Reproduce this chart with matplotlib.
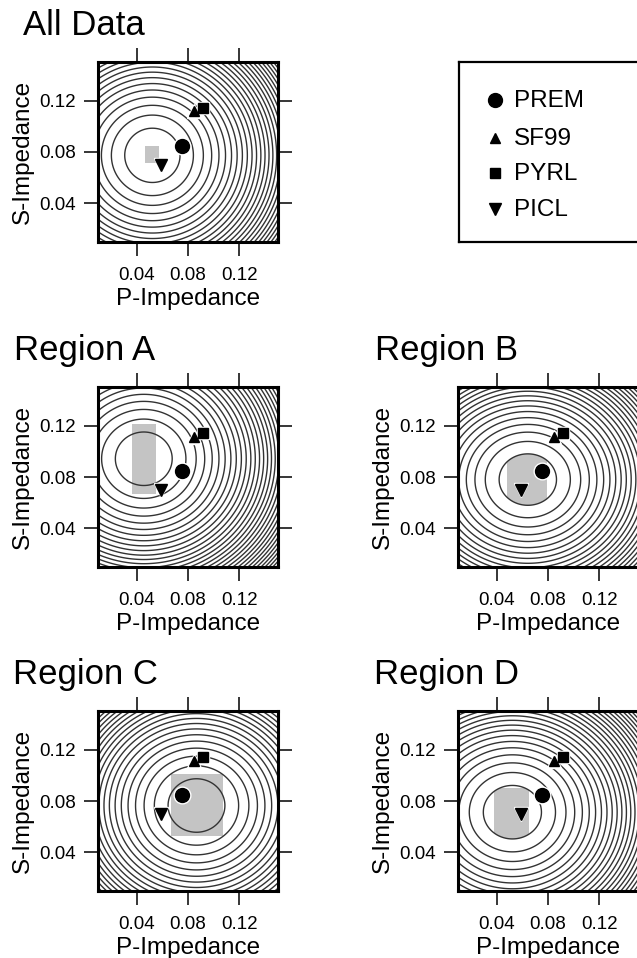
import numpy as np
import matplotlib
matplotlib.use("Agg")
import matplotlib.pyplot as plt
from matplotlib.patches import Rectangle, Ellipse

plt.rcParams['font.family'] = ['Liberation Sans', 'DejaVu Sans']

# ---- data -------------------------------------------------------------
panel_titles = ["All Data", "Region A", "Region B", "Region C", "Region D"]

# misfit minimum (P, S) and semi-axes of the first misfit contour
center_p = [0.0523, 0.0456, 0.0643, 0.0866, 0.0523]
center_s = [0.0774, 0.0942, 0.0780, 0.0765, 0.0713]
radius_p = [0.0215, 0.0221, 0.0223, 0.0221, 0.0226]
radius_s = [0.0211, 0.0208, 0.0200, 0.0208, 0.0208]

# shaded acceptable range of each region
box_p0 = [0.0469, 0.0365, 0.0484, 0.0666, 0.0381]
box_p1 = [0.0573, 0.0549, 0.0791, 0.1069, 0.0653]
box_s0 = [0.0713, 0.0669, 0.0578, 0.0531, 0.0508]
box_s1 = [0.0843, 0.1214, 0.0980, 0.1012, 0.0903]
box_inside_first_contour = [False, False, True, False, True]

# reference models
models = ["PREM", "SF99", "PYRL", "PICL"]
model_p = [0.0756, 0.0847, 0.0920, 0.0587]
model_s = [0.0847, 0.1115, 0.1140, 0.0699]
model_marker = ["o", "^", "s", "v"]
model_size = [10, 7.5, 7, 8]

ticks = [0.04, 0.08, 0.12]
tick_labels = ["0.04", "0.08", "0.12"]
axis_min, axis_max = 0.01, 0.15

# contour levels: first level at 1 (the ellipse above), then a constant step
first_level = 1.0
level_step = 1.2
n_levels = 55

# ---- layout (figure pixels) ------------------------------------------
W, H = 637, 958
fig = plt.figure(figsize=(W / 100, H / 100), dpi=100)

panel_left_px = [98, 98, 458, 98, 458]
panel_top_px = [62, 387, 387, 711, 711]
panel_size_px = 180
title_xy_px = [(23, 35), (14, 360), (375, 360), (13, 684), (374, 684)]

grid = np.linspace(axis_min, axis_max, 600)
GP, GS = np.meshgrid(grid, grid)
levels = first_level + level_step * np.arange(n_levels)

for i, title in enumerate(panel_titles):
    l = panel_left_px[i] / W
    b = 1 - (panel_top_px[i] + panel_size_px) / H
    ax = fig.add_axes([l, b, panel_size_px / W, panel_size_px / H])

    misfit = ((GP - center_p[i]) / radius_p[i]) ** 2 + ((GS - center_s[i]) / radius_s[i]) ** 2

    rect = Rectangle((box_p0[i], box_s0[i]), box_p1[i] - box_p0[i], box_s1[i] - box_s0[i],
                     facecolor="#c4c4c4", edgecolor="none", zorder=1)
    ax.add_patch(rect)
    if box_inside_first_contour[i]:
        clip = Ellipse((center_p[i], center_s[i]), 2 * radius_p[i], 2 * radius_s[i],
                       transform=ax.transData)
        rect.set_clip_path(clip)

    ax.contour(GP, GS, misfit, levels=levels,
               colors="#333333", linewidths=1.0, zorder=2)

    for p, s, m, ms in zip(model_p, model_s, model_marker, model_size):
        ax.plot(p, s, marker=m, ms=ms + 2, color="white", ls="none", zorder=3)
    for p, s, m, ms in zip(model_p, model_s, model_marker, model_size):
        ax.plot(p, s, marker=m, ms=ms, color="black", ls="none", zorder=4)

    ax.set_xlim(axis_min, axis_max)
    ax.set_ylim(axis_min, axis_max)
    ax.set_xticks(ticks)
    ax.set_xticklabels(tick_labels)
    ax.set_yticks(ticks)
    ax.set_yticklabels(tick_labels)
    ax.tick_params(direction="out", length=10, width=1.1, top=True, right=True,
                   labeltop=False, labelright=False, labelsize=13.5, pad=6)
    ax.tick_params(axis="x", pad=8)
    for sp in ax.spines.values():
        sp.set_linewidth(2.2)
    ax.set_xlabel("P-Impedance", fontsize=17.5, labelpad=3)
    ax.set_ylabel("S-Impedance", fontsize=17.5, labelpad=4)

    tx, ty = title_xy_px[i]
    fig.text(tx / W, 1 - ty / H, title, fontsize=25, ha="left", va="baseline")

# ---- legend box --------------------------------------------------------
lg = fig.add_axes([459 / W, 1 - 242 / H, 220 / W, 180 / H])
lg.set_xlim(0, 220)
lg.set_ylim(0, 180)
lg.set_xticks([])
lg.set_yticks([])
for sp in lg.spines.values():
    sp.set_linewidth(1.6)
row_y = [143, 105, 70, 34]
for name, m, ms, y in zip(models, model_marker, model_size, row_y):
    lg.plot(36, y - 1, marker=m, ms=ms, color="black", ls="none")
    lg.text(55, y - 2, name, fontsize=17.5, ha="left", va="center")

fig.savefig("out.png", dpi=100)
